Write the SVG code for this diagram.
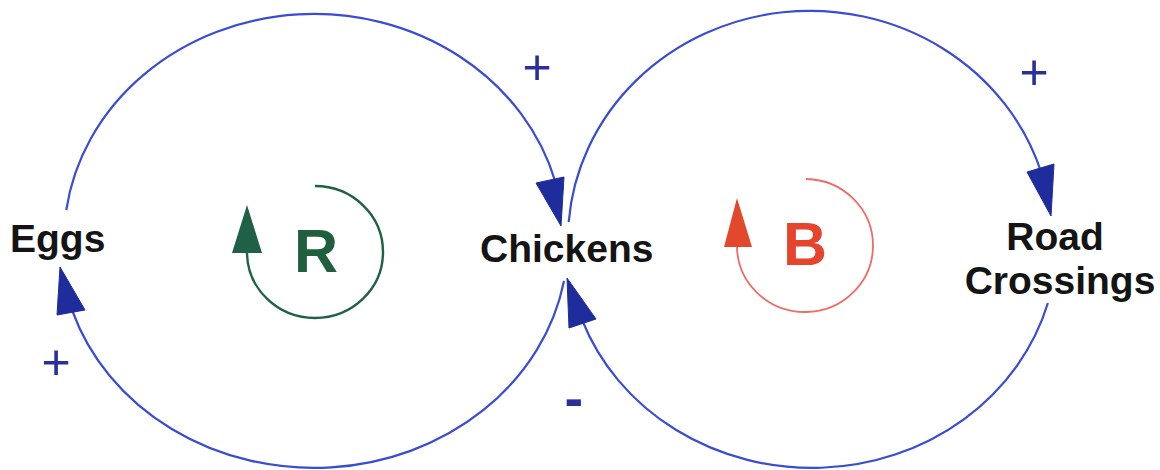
<svg xmlns="http://www.w3.org/2000/svg" width="1160" height="470" viewBox="0 0 1160 470">
  <style>
    .link { fill: none; stroke: #3a4bd4; stroke-width: 2.2; }
    .head { fill: #1f2c9c; stroke: #1f2c9c; stroke-width: 1; stroke-linejoin: round; }
    .node { font-family: "Liberation Sans", Arial, sans-serif; font-weight: bold; font-size: 39px; fill: #141414; }
    .pol { font-family: "Liberation Sans", Arial, sans-serif; font-size: 50px; fill: #2a2f9a; text-anchor: middle; }
    .neg { font-family: "Liberation Sans", Arial, sans-serif; font-size: 56px; font-weight: bold; fill: #2a2f9a; }
    .loopR { fill: none; stroke: #1e6146; stroke-width: 2.4; }
    .loopB { fill: none; stroke: #f06a66; stroke-width: 1.8; }
    .loopLabel { font-family: "Liberation Sans", Arial, sans-serif; font-weight: bold; font-size: 61px; text-anchor: middle; }
  </style>
  <rect width="1160" height="470" fill="#ffffff"/>

  <g id="connectors">
    <!-- Eggs -> Chickens (+) -->
    <path class="link" d="M66.3,210 A250,227 0 0 1 555.4,182"/>
    <polygon class="head" points="536,183 564,177 561,226"/>
    <!-- Chickens -> Eggs (+) -->
    <path class="link" d="M564,281 A254,227 0 0 1 72.4,311"/>
    <polygon class="head" points="57,315 85,310 60,267"/>
    <!-- Chickens -> Road Crossings (+) -->
    <path class="link" d="M568.7,222 A242,229 0 0 1 1041.1,172"/>
    <polygon class="head" points="1027,172 1054,164 1051,216"/>
    <!-- Road Crossings -> Chickens (-) -->
    <path class="link" d="M1047.9,303 A245,226 0 0 1 582.1,320"/>
    <polygon class="head" points="569,328 596,319 567,278"/>

    <text class="pol" x="537" y="84">+</text>
    <text class="pol" x="56" y="379">+</text>
    <text class="pol" x="1034" y="89">+</text>
    <text class="neg" x="564.5" y="417">-</text>
  </g>

  <g id="node-eggs">
    <text class="node" x="10" y="252">Eggs</text>
  </g>
  <g id="node-chickens">
    <text class="node" x="480" y="262">Chickens</text>
  </g>
  <g id="node-road-crossings">
    <text class="node" text-anchor="middle"><tspan x="1055" y="250">Road</tspan><tspan x="1060" y="294">Crossings</tspan></text>
  </g>

  <g id="loop-R">
    <path class="loopR" d="M315,186 A68,66 0 1 1 247,252"/>
    <polygon points="232,253 262,253 247,205" fill="#1e6146"/>
    <text class="loopLabel" x="316" y="272" fill="#1f5f3e">R</text>
  </g>

  <g id="loop-B">
    <path class="loopB" d="M806,179 A68,66.5 0 1 1 737,247"/>
    <polygon points="724,247 752,247 737,198" fill="#e2482c"/>
    <text class="loopLabel" x="805" y="265" fill="#e5452d">B</text>
  </g>
</svg>
